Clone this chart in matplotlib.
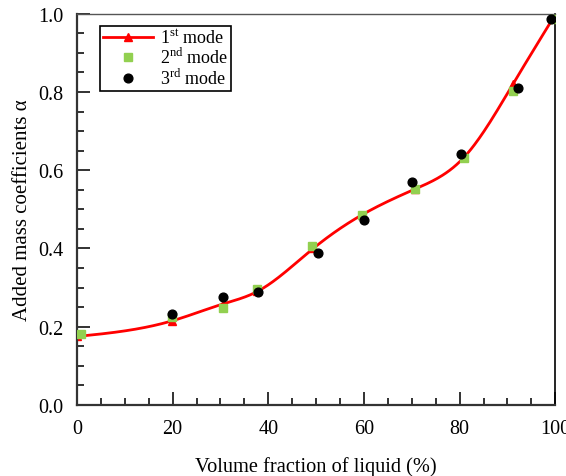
import numpy as np
import matplotlib
matplotlib.use('Agg')
import matplotlib.pyplot as plt
from matplotlib.ticker import MultipleLocator

plt.rcParams['font.family'] = ['Liberation Serif', 'DejaVu Serif']
plt.rcParams['mathtext.fontset'] = 'custom'
plt.rcParams['mathtext.rm'] = 'Liberation Serif'

# 1st mode (red triangles + smooth curve)
x1 = [0.0, 19.9, 30.5, 37.7, 49.4, 59.6, 70.7, 81.0, 91.2, 99.6]
y1 = [0.175, 0.215, 0.258, 0.290, 0.400, 0.486, 0.552, 0.634, 0.821, 0.990]
# 2nd mode (green squares)
x2 = [0.8, 19.9, 30.5, 37.7, 49.2, 59.6, 70.7, 81.0, 91.2, 99.8]
y2 = [0.182, 0.225, 0.248, 0.297, 0.407, 0.486, 0.552, 0.632, 0.803, 0.987]
# 3rd mode (black circles)
x3 = [19.9, 30.5, 37.9, 50.4, 60.0, 70.1, 80.3, 92.3, 99.2]
y3 = [0.233, 0.276, 0.289, 0.389, 0.473, 0.570, 0.642, 0.811, 0.987]


def natural_spline(x, y, xs):
    # plain natural cubic spline for the smooth red curve
    x = np.asarray(x, float)
    y = np.asarray(y, float)
    n = len(x)
    h = np.diff(x)
    A = np.zeros((n, n))
    b = np.zeros(n)
    A[0, 0] = A[-1, -1] = 1
    for i in range(1, n - 1):
        A[i, i - 1] = h[i - 1]
        A[i, i] = 2 * (h[i - 1] + h[i])
        A[i, i + 1] = h[i]
        b[i] = 6 * ((y[i + 1] - y[i]) / h[i] - (y[i] - y[i - 1]) / h[i - 1])
    m = np.linalg.solve(A, b)
    idx = np.clip(np.searchsorted(x, xs) - 1, 0, n - 2)
    xi, xj = x[idx], x[idx + 1]
    hi = xj - xi
    t1 = xj - xs
    t2 = xs - xi
    return (m[idx] * t1 ** 3 / (6 * hi) + m[idx + 1] * t2 ** 3 / (6 * hi)
            + (y[idx] / hi - m[idx] * hi / 6) * t1
            + (y[idx + 1] / hi - m[idx + 1] * hi / 6) * t2)


fig = plt.figure(figsize=(5.66, 4.77), dpi=100)
ax = fig.add_axes([0.136, 0.149, 0.845, 0.820])

xs = np.linspace(x1[0], x1[-1], 400)
ax.plot(xs, natural_spline(x1, y1, xs), color='red', lw=2, zorder=2)
ax.plot(x1, y1, ls='none', marker='^', color='red', ms=6, zorder=2)
ax.plot([], [], color='red', lw=2, marker='^', ms=6, label=r'1$^{\rm st}$ mode')
ax.plot(x2, y2, ls='none', marker='s', color='#92d050', ms=5.5, zorder=3,
        label=r'2$^{\rm nd}$ mode')
ax.plot(x3, y3, ls='none', marker='o', color='black', ms=6.3, zorder=4,
        label=r'3$^{\rm rd}$ mode')

ax.set_xlim(0, 100)
ax.set_ylim(0, 1.0)
ax.xaxis.set_major_locator(MultipleLocator(20))
ax.xaxis.set_minor_locator(MultipleLocator(5))
ax.yaxis.set_major_locator(MultipleLocator(0.2))
ax.yaxis.set_minor_locator(MultipleLocator(0.05))
ax.yaxis.set_major_formatter(matplotlib.ticker.FormatStrFormatter('%.1f'))
ax.tick_params(which='both', direction='in', top=False, right=False,
               labelsize=14.5, width=1.3, color='#222222')
ax.tick_params(which='major', length=9.5, pad=10)
ax.tick_params(which='minor', length=5)
for s in ['left', 'bottom']:
    ax.spines[s].set_linewidth(1.6)
    ax.spines[s].set_color('#333333')
ax.spines['top'].set_linewidth(1.0)
ax.spines['top'].set_color('#555555')
ax.spines['right'].set_linewidth(1.2)

ax.set_xlabel('Volume fraction of liquid (%)', fontsize=14.7, labelpad=13)
ax.set_ylabel('Added mass coefficients α', fontsize=15, labelpad=4)

leg = ax.legend(loc='upper left', bbox_to_anchor=(0.048, 0.97), borderaxespad=0,
                fancybox=False, edgecolor='black', framealpha=1, fontsize=13,
                handlelength=2.8, handletextpad=0.4, labelspacing=0.02,
                borderpad=0.15)
leg.get_frame().set_linewidth(1.2)

plt.savefig('out.png', dpi=100)
